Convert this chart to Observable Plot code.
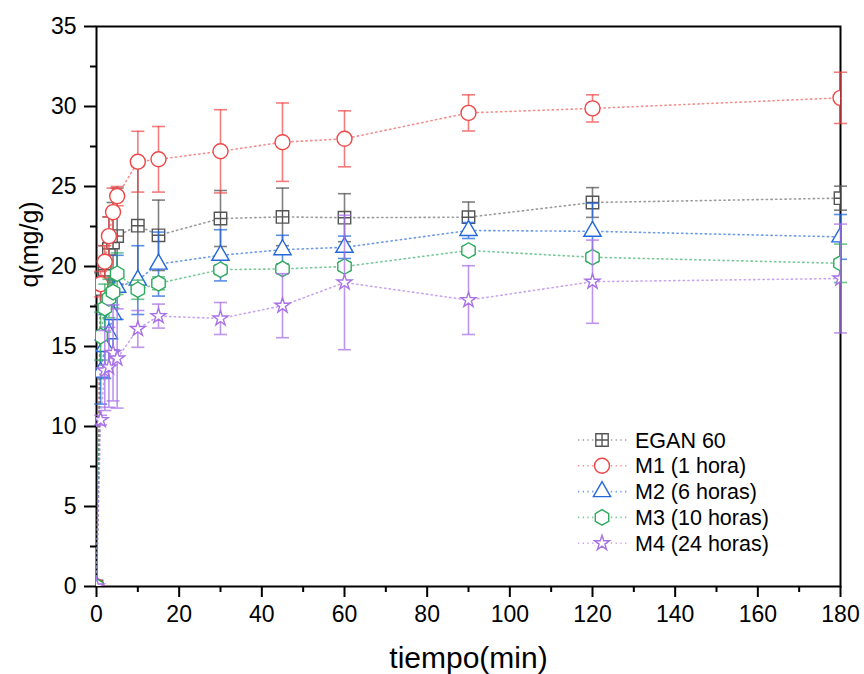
<!DOCTYPE html>
<html><head><meta charset="utf-8">
<script src="https://cdn.jsdelivr.net/npm/d3@7"></script>
<script src="https://cdn.jsdelivr.net/npm/@observablehq/plot@0.6"></script>
<style>
body{margin:0;background:#fff}
#wrap{position:relative;width:864px;height:674px}
#legend{position:absolute;left:0;top:0;pointer-events:none}
</style>
</head><body><div id="wrap"></div>
<script>
// ---- data ----
const time = [0, 1, 2, 3, 4, 5, 10, 15, 30, 45, 60, 90, 120, 180];
const seriesNames = ["EGAN 60", "M1 (1 hora)", "M2 (6 horas)", "M3 (10 horas)", "M4 (24 horas)"];
const egan    = [0, 18.6, 19.8, 21.1, 21.5, 21.9, 22.55, 21.95, 23.0, 23.1, 23.05, 23.08, 24.0, 24.27];
const eganErr = [0, 1.0, 1.5, 2.0, 2.5, 3.0, 3.7, 2.2, 1.75, 1.8, 1.5, 0.95, 0.93, 0.75];
const m1      = [0, 18.9, 20.3, 21.9, 23.4, 24.4, 26.55, 26.7, 27.2, 27.77, 27.98, 29.6, 29.88, 30.54];
const m1Err   = [0, 0.8, 1.0, 1.2, 1.5, 0.6, 1.9, 2.05, 2.6, 2.45, 1.75, 1.13, 0.85, 1.6];
const m2      = [0, 13.4, 15.0, 15.8, 17.0, 18.7, 19.15, 20.15, 20.7, 21.05, 21.2, 22.25, 22.2, 21.85];
const m2Err   = [0, 2.0, 2.0, 2.0, 2.2, 2.0, 2.15, 2.0, 1.6, 0.9, 0.7, 0.5, 1.75, 1.4];
const m3      = [0, 15.65, 17.4, 18.0, 18.4, 19.55, 18.55, 18.95, 19.8, 19.85, 20.0, 21.0, 20.58, 20.2];
const m3Err   = [0, 1.5, 1.5, 1.2, 1.0, 1.3, 0.6, 0.4, 0.3, 0.3, 0.3, 0.3, 0.3, 1.2];
const m4      = [0, 10.4, 13.5, 13.7, 14.6, 14.25, 16.1, 16.9, 16.75, 17.55, 19.0, 17.9, 19.05, 19.25];
const m4Err   = [0, 0.3, 2.5, 2.5, 3.0, 3.1, 1.15, 0.75, 1.0, 2.0, 4.2, 2.15, 2.6, 3.4];
const xMajor = [0, 20, 40, 60, 80, 100, 120, 140, 160, 180];
const xMinor = [10, 30, 50, 70, 90, 110, 130, 150, 170];
const yMajor = [0, 5, 10, 15, 20, 25, 30, 35];
const yMinor = [2.5, 7.5, 12.5, 17.5, 22.5, 27.5, 32.5];
const xTitle = "tiempo(min)";
const yTitle = "q(mg/g)";

// ---- symbols ----
const sqrt3 = Math.sqrt(3);
const symSquareCross = {draw(c, size){const s = Math.sqrt(size)/2;
  c.moveTo(-s,-s); c.lineTo(s,-s); c.lineTo(s,s); c.lineTo(-s,s); c.closePath();
  c.moveTo(-s,0); c.lineTo(s,0); c.moveTo(0,-s); c.lineTo(0,s);}};
const symHex = {draw(c, size){const rx = Math.sqrt(size/Math.PI), ry = rx*2/sqrt3, hy = ry/2;
  c.moveTo(0,ry); c.lineTo(rx,hy); c.lineTo(rx,-hy); c.lineTo(0,-ry); c.lineTo(-rx,-hy); c.lineTo(-rx,hy); c.closePath();}};
const symCap = {draw(c, size){const w = Math.sqrt(size/Math.PI); c.moveTo(-w,0); c.lineTo(w,0);}};

const styles = [
  {vals: egan, errs: eganErr, sym: symSquareCross, r: 7.0, color: "#555555", line: "#707070", err: "rgba(85,85,85,0.75)"},
  {vals: m1, errs: m1Err, sym: d3.symbolCircle, r: 7.5, color: "#f04545", line: "#f06060", err: "rgba(240,69,69,0.7)"},
  {vals: m2, errs: m2Err, sym: d3.symbolTriangle, r: 6.4, color: "#2468dc", line: "#3070dc", err: "rgba(36,104,220,0.75)"},
  {vals: m3, errs: m3Err, sym: symHex, r: 6.7, color: "#2eaa5e", line: "#40b070", err: "rgba(46,170,94,0.7)"},
  {vals: m4, errs: m4Err, sym: d3.symbolStar, r: 4.7, color: "#a872e6", line: "#b080e8", err: "rgba(168,114,230,0.75)"}
];

const marks = [Plot.frame({stroke: "black", strokeWidth: 2})];
styles.forEach((s) => {
  const rows = time.map((t, i) => ({t, q: s.vals[i], e: s.errs[i]}));
  const er = rows.filter(d => d.e > 0);
  marks.push(
    Plot.line(rows, {x: "t", y: "q", stroke: s.line, strokeWidth: 1.6, strokeDasharray: "1.3,3.4", strokeOpacity: 0.7}),
    Plot.ruleX(er, {x: "t", y1: d => d.q - d.e, y2: d => d.q + d.e, stroke: s.err, strokeWidth: 1.6}),
    Plot.dot(er, {x: "t", y: d => d.q + d.e, symbol: symCap, r: 6.5, stroke: s.err, fill: "none", strokeWidth: 1.6}),
    Plot.dot(er, {x: "t", y: d => d.q - d.e, symbol: symCap, r: 6.5, stroke: s.err, fill: "none", strokeWidth: 1.6}),
    Plot.dot(rows, {x: "t", y: "q", symbol: s.sym, r: s.r, stroke: s.color, fill: "white", strokeWidth: 1.4, clip: "frame"})
  );
});
marks.push(
  Plot.axisY(yMajor, {tickSize: 12, tickPadding: 8, strokeWidth: 2, fontSize: 23, label: null, tickFormat: d => String(d)}),
  Plot.axisY(yMinor, {tickSize: 6, strokeWidth: 2, label: null, tickFormat: () => ""}),
  Plot.axisX(xMajor, {tickSize: 11, tickPadding: 8, strokeWidth: 2, fontSize: 23, label: null, tickFormat: d => String(d)}),
  Plot.axisX(xMinor, {tickSize: 6, strokeWidth: 2, label: null, tickFormat: () => ""}),
  Plot.text([xTitle], {text: d => d, frameAnchor: "bottom", dy: 72, fontSize: 30, lineAnchor: "middle", fill: "black"}),
  Plot.text([yTitle], {text: d => d, frameAnchor: "left", rotate: -90, dx: -67, dy: -19, fontSize: 25, lineAnchor: "middle", fill: "black"})
);

const chart = Plot.plot({
  width: 864, height: 674,
  marginLeft: 96, marginRight: 24, marginTop: 26, marginBottom: 88,
  x: {domain: [0, 180]},
  y: {domain: [0, 35]},
  style: {fontFamily: "'Liberation Sans', Arial, sans-serif", color: "black", background: "white", overflow: "visible"},
  marks
});
const wrap = document.getElementById("wrap");
wrap.appendChild(chart);

// ---- legend overlay ----
const lg = d3.select(wrap).append("svg").attr("id", "legend").attr("width", 864).attr("height", 674);
styles.forEach((s, i) => {
  const y = 440 + i * 25.8;
  lg.append("line").attr("x1", 578).attr("x2", 627).attr("y1", y).attr("y2", y)
    .attr("stroke", s.line).attr("stroke-width", 1.6).attr("stroke-dasharray", "1.3,3.4").attr("stroke-opacity", 0.7);
  lg.append("path").attr("d", d3.symbol(s.sym, Math.PI * s.r * s.r)()).attr("transform", `translate(602,${y})`)
    .attr("fill", "white").attr("stroke", s.color).attr("stroke-width", 1.4);
  lg.append("text").attr("x", 635).attr("y", y).attr("dy", "0.35em").attr("font-size", 21.5)
    .attr("font-family", "'Liberation Sans', Arial, sans-serif").attr("fill", "black").text(seriesNames[i]);
});
</script>
</body></html>
